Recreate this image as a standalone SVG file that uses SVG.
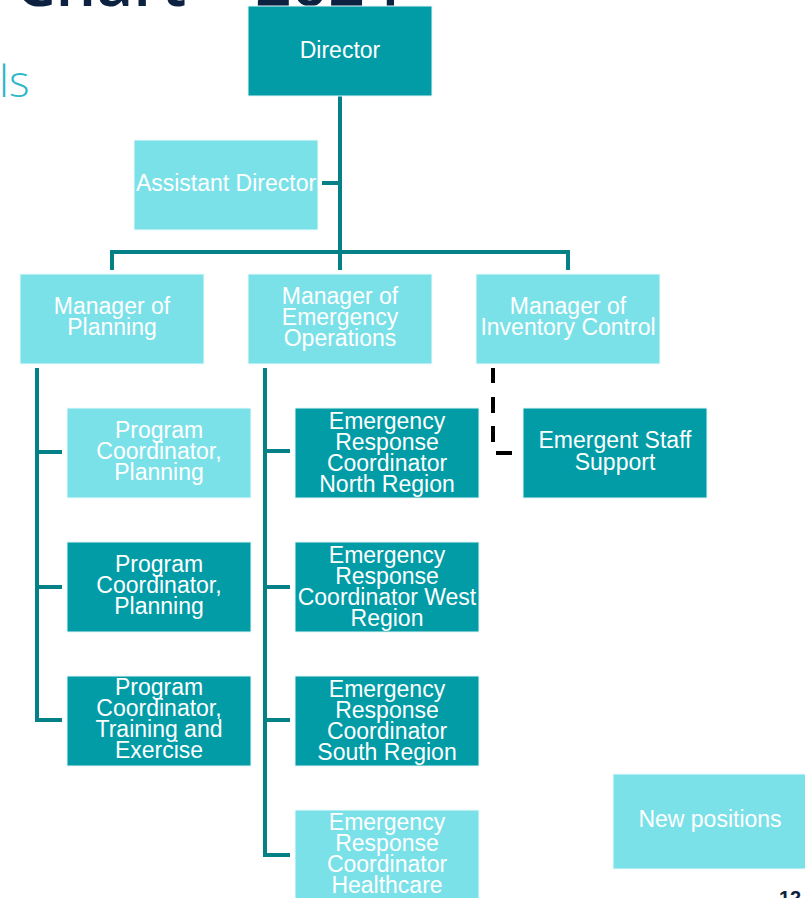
<svg xmlns="http://www.w3.org/2000/svg" width="805" height="898" viewBox="0 0 805 898">
<style>
.dark{fill:#019ca6;stroke:#e6f7f8;stroke-width:1}
.light{fill:#7be1e8;stroke:#f0fbfc;stroke-width:1}
.lbl{font-family:"Liberation Sans",Arial,Helvetica,sans-serif;font-size:23px;fill:#ffffff;text-anchor:middle}
.conn{fill:none;stroke:#048087;stroke-width:4}
.dash{fill:none;stroke:#000000;stroke-width:4}
</style>
<rect width="805" height="898" fill="#ffffff"/>
<g id="slide-text">
<text x="15" y="6" font-family="'Open Sans','Liberation Sans',sans-serif" font-size="64" font-weight="600" fill="#0d2240">Chart – <tspan x="255">2024</tspan></text>
<text x="-1" y="97" font-family="'Open Sans','Liberation Sans',sans-serif" font-size="44" font-weight="300" fill="#2bb7c8">ls</text>
<text x="779" y="905" font-family="'Liberation Sans',Arial,sans-serif" font-size="20" font-weight="bold" fill="#0d2240">12</text>
</g>
<g id="connectors">
<path class="conn" d="M340,96V270"/>
<path class="conn" d="M322,183H340"/>
<path class="conn" d="M112,270V252H568V270"/>
<path class="conn" d="M37,368V720H62M37,452H62M37,587H62"/>
<path class="conn" d="M265,368V855H290M265,451H290M265,587H290M265,720H290"/>
<path class="dash" d="M493,368V383M493,397V413M493,426V442M496,453H512"/>
</g>
<g id="director"><rect class="dark" x="248" y="6" width="184" height="90"/><text class="lbl" x="340" y="58">Director</text></g>
<g id="assistant-director"><rect class="light" x="134" y="140" width="184" height="90"/><text class="lbl" x="226" y="191">Assistant Director</text></g>
<g id="manager-planning"><rect class="light" x="20" y="274" width="184" height="90"/><text class="lbl" x="112" y="314">Manager of</text><text class="lbl" x="112" y="335">Planning</text></g>
<g id="manager-emergency-operations"><rect class="light" x="248" y="274" width="184" height="90"/><text class="lbl" x="340" y="304">Manager of</text><text class="lbl" x="340" y="325">Emergency</text><text class="lbl" x="340" y="346">Operations</text></g>
<g id="manager-inventory-control"><rect class="light" x="476" y="274" width="184" height="90"/><text class="lbl" x="568" y="314">Manager of</text><text class="lbl" x="568" y="335">Inventory Control</text></g>
<g id="program-coordinator-planning-1"><rect class="light" x="67" y="408" width="184" height="90"/><text class="lbl" x="159" y="438">Program</text><text class="lbl" x="159" y="459">Coordinator,</text><text class="lbl" x="159" y="480">Planning</text></g>
<g id="program-coordinator-planning-2"><rect class="dark" x="67" y="542" width="184" height="90"/><text class="lbl" x="159" y="572">Program</text><text class="lbl" x="159" y="593">Coordinator,</text><text class="lbl" x="159" y="614">Planning</text></g>
<g id="program-coordinator-training"><rect class="dark" x="67" y="676" width="184" height="90"/><text class="lbl" x="159" y="695">Program</text><text class="lbl" x="159" y="716">Coordinator,</text><text class="lbl" x="159" y="737">Training and</text><text class="lbl" x="159" y="758">Exercise</text></g>
<g id="erc-north"><rect class="dark" x="295" y="408" width="184" height="90"/><text class="lbl" x="387" y="429">Emergency</text><text class="lbl" x="387" y="450">Response</text><text class="lbl" x="387" y="471">Coordinator</text><text class="lbl" x="387" y="492">North Region</text></g>
<g id="erc-west"><rect class="dark" x="295" y="542" width="184" height="90"/><text class="lbl" x="387" y="563">Emergency</text><text class="lbl" x="387" y="584">Response</text><text class="lbl" x="387" y="605">Coordinator West</text><text class="lbl" x="387" y="626">Region</text></g>
<g id="erc-south"><rect class="dark" x="295" y="676" width="184" height="90"/><text class="lbl" x="387" y="697">Emergency</text><text class="lbl" x="387" y="718">Response</text><text class="lbl" x="387" y="739">Coordinator</text><text class="lbl" x="387" y="760">South Region</text></g>
<g id="erc-healthcare"><rect class="light" x="295" y="810" width="184" height="92"/><text class="lbl" x="387" y="830">Emergency</text><text class="lbl" x="387" y="851">Response</text><text class="lbl" x="387" y="872">Coordinator</text><text class="lbl" x="387" y="893">Healthcare</text></g>
<g id="emergent-staff-support"><rect class="dark" x="523" y="408" width="184" height="90"/><text class="lbl" x="615" y="448">Emergent Staff</text><text class="lbl" x="615" y="470">Support</text></g>
<g id="legend-new-positions"><rect class="light" x="613" y="774" width="197" height="95"/><text class="lbl" x="710" y="827">New positions</text></g>
</svg>
